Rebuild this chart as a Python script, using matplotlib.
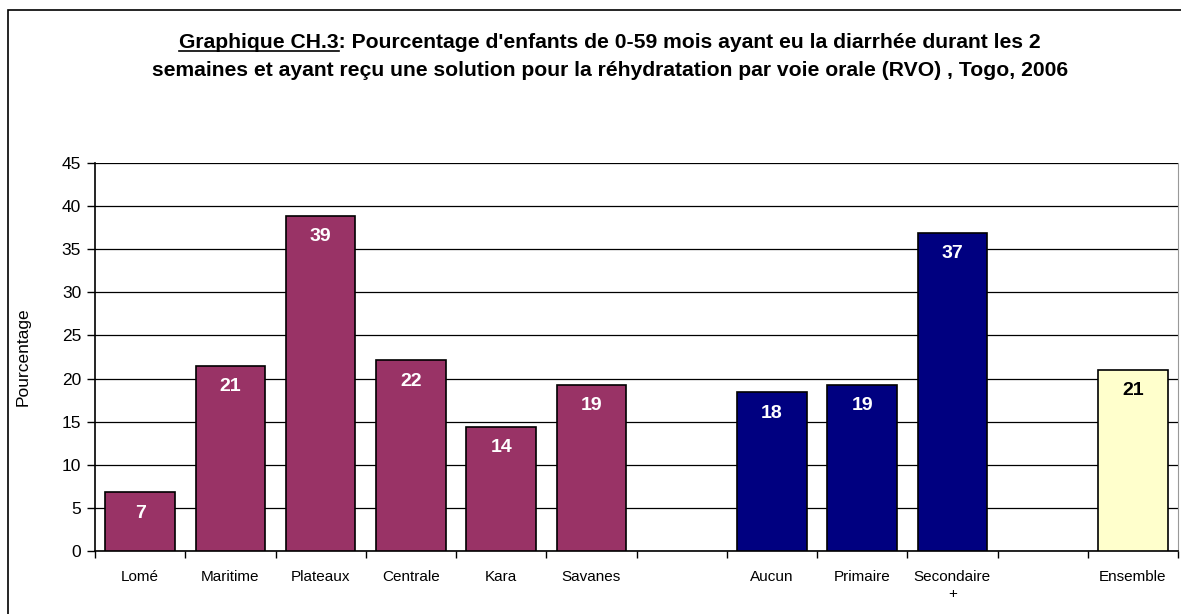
import matplotlib
matplotlib.use("Agg")
import matplotlib.pyplot as plt
from matplotlib.patches import Rectangle
from matplotlib.lines import Line2D

categories = ["Lomé", "Maritime", "Plateaux", "Centrale", "Kara", "Savanes", "",
              "Aucun", "Primaire", "Secondaire\n+", "", "Ensemble"]
values = [6.8, 21.5, 38.9, 22.1, 14.4, 19.3, None, 18.4, 19.3, 36.9, None, 21.0]
labels = ["7", "21", "39", "22", "14", "19", "", "18", "19", "37", "", "21"]
groups = ["r", "r", "r", "r", "r", "r", None, "e", "e", "e", None, "t"]
colors = {"r": "#993366", "e": "#000080", "t": "#FFFFCC"}
label_colors = {"r": "white", "e": "white", "t": "black"}

plt.rcParams['font.family'] = ['Liberation Sans', 'DejaVu Sans']

W, H = 1181, 614
fig = plt.figure(figsize=(W/100, H/100), dpi=100)
ax = fig.add_axes([95/W, 1-551/H, (1178-95)/W, (551-163)/H])

xs = list(range(len(categories)))
for x, v, g, lab in zip(xs, values, groups, labels):
    if v is None:
        continue
    ax.bar(x, v, width=0.77, color=colors[g], edgecolor="black", linewidth=1.2, zorder=3)
    ax.annotate(lab, (x, v), xytext=(0, -15), textcoords="offset points",
                ha="center", va="center", color=label_colors[g],
                fontsize=14, fontweight="bold", zorder=4)

ax.set_xlim(-0.5, len(categories) - 0.5)
ax.set_ylim(0, 45)
ax.set_yticks(range(0, 46, 5))
ax.yaxis.grid(True, color="black", linewidth=0.9, zorder=0)
ax.set_axisbelow(True)
ax.set_xticks([x - 0.5 for x in xs] + [len(categories) - 0.5])
ax.set_xticklabels([])
ax.set_xticks(xs, minor=True)
ax.set_xticklabels(categories, minor=True, fontsize=11, linespacing=1.25)
ax.tick_params(axis="x", which="minor", length=0, pad=14)
ax.tick_params(axis="x", which="major", length=5, direction="out", width=1)
ax.tick_params(axis="y", length=6, direction="out", width=1, labelsize=12.5, pad=4)
ax.spines["top"].set_visible(False)
ax.spines["right"].set_color("#999999")
ax.spines["left"].set_linewidth(1.2)
ax.spines["bottom"].set_linewidth(1.2)
ax.set_ylabel("Pourcentage", fontsize=12.5, labelpad=22)

# figure border
fig.patches.append(Rectangle((8/W, -0.1), 1.2, 1.1 - 10/H, transform=fig.transFigure,
                             fill=False, edgecolor="black", linewidth=1.2))

line1 = "Graphique CH.3: Pourcentage d'enfants de 0-59 mois ayant eu la diarrhée durant les 2"
line2 = "semaines et ayant reçu une solution pour la réhydratation par voie orale (RVO) , Togo, 2006"
TFS = 15.2
tprops = dict(fontsize=TFS, fontweight="bold", ha="center", va="center")
t1 = fig.text(610/W, 1-42/H, line1, **tprops)
fig.text(610/W, 1-70/H, line2, **tprops)

fig.canvas.draw()
r = fig.canvas.get_renderer()
bb = t1.get_window_extent(r)
tmp = fig.text(0, 0, "Graphique CH.3", fontsize=TFS, fontweight="bold")
bb2 = tmp.get_window_extent(r)
tmp.remove()
x0 = bb.x0
x1 = bb.x0 + bb2.width
yline = bb.y0 + 1
fig.lines.append(Line2D([x0/W, x1/W], [yline/H, yline/H], transform=fig.transFigure,
                        color="black", linewidth=1.2))

fig.savefig("out.png", dpi=100)
